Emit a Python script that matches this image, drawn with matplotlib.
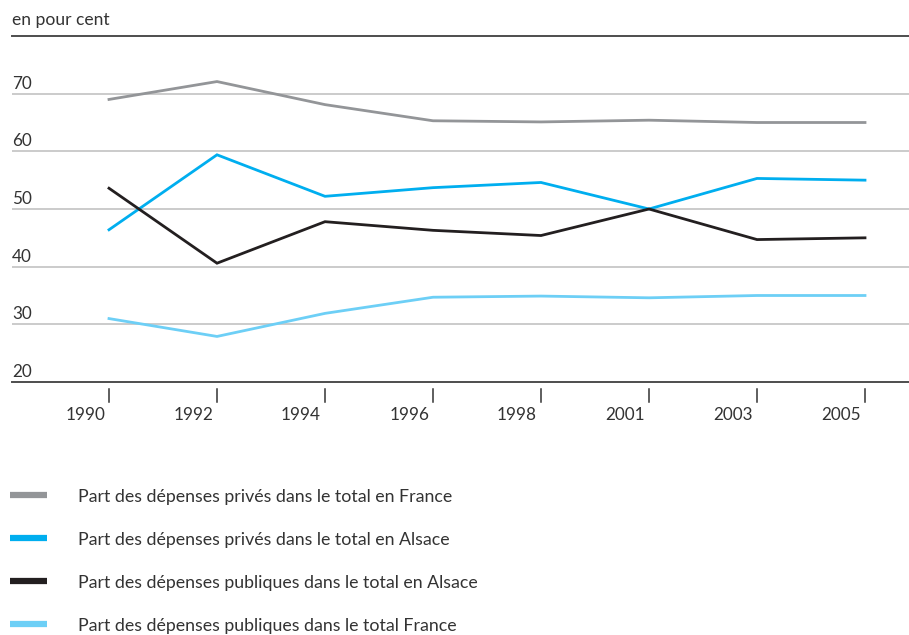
import matplotlib
matplotlib.use('Agg')
import matplotlib.pyplot as plt
from matplotlib.lines import Line2D
import matplotlib.transforms as mtransforms

plt.rcParams['font.family'] = ['Lato', 'DejaVu Sans']

W, H, DPI = 909, 635, 100

years = ['1990', '1992', '1994', '1996', '1998', '2001', '2003', '2005']
prive_france = [69.0, 72.1, 68.1, 65.3, 65.1, 65.4, 65.0, 65.0]
prive_alsace = [46.4, 59.4, 52.2, 53.7, 54.6, 50.0, 55.3, 55.0]
publique_alsace = [53.6, 40.6, 47.8, 46.3, 45.4, 50.0, 44.7, 45.0]
publique_france = [31.0, 27.9, 31.9, 34.7, 34.9, 34.6, 35.0, 35.0]

series = [
    ('Part des dépenses privés dans le total en France', prive_france, '#939598'),
    ('Part des dépenses privés dans le total en Alsace', prive_alsace, '#00aeef'),
    ('Part des dépenses publiques dans le total en Alsace', publique_alsace, '#231f20'),
    ('Part des dépenses publiques dans le total France', publique_france, '#6dcff6'),
]
y_ticks = [20, 30, 40, 50, 60, 70]
TXT = '#333333'

fig = plt.figure(figsize=(W / DPI, H / DPI), dpi=DPI)
ax_left, ax_right, ax_top, ax_bot = 12, 909, 36, 382
ax = fig.add_axes([ax_left / W, 1 - ax_bot / H, (ax_right - ax_left) / W, (ax_bot - ax_top) / H])

# category i sits at pixel 109 + 108*i
x = list(range(len(years)))
ax.set_xlim((ax_left - 109) / 108, (ax_right - 109) / 108)
ax.set_ylim(20, 80)

for v in y_ticks[1:]:
    ax.axhline(v, color='#bdbdbd', lw=1.1, zorder=1)

for label, vals, color in series:
    ax.plot(x, vals, color=color, lw=2.0, solid_joinstyle='miter', zorder=3)

for s in ['left', 'right']:
    ax.spines[s].set_visible(False)
for s in ['top', 'bottom']:
    ax.spines[s].set_color('#4d4d4d')
    ax.spines[s].set_linewidth(1.4)
ax.set_xticks([])
ax.set_yticks([])

ax_h = ax_bot - ax_top
# y values written above their gridlines
ytrans = mtransforms.blended_transform_factory(ax.transAxes, ax.transData)
for v in y_ticks:
    ax.text(0, v + 0.35, str(v), transform=ytrans, ha='left', va='bottom',
            fontsize=12.3, color=TXT)

# detached tick marks and right-aligned year labels
xtrans = ax.get_xaxis_transform()
for i, yr in enumerate(years):
    ax.plot([i, i], [-(389 - ax_bot) / ax_h, -(402 - ax_bot) / ax_h], transform=xtrans,
            color='#333333', lw=1.1, clip_on=False)
    ax.text(i - 4 / 108, -(415 - ax_bot) / ax_h, yr, transform=xtrans, ha='right',
            va='center', fontsize=12.3, color=TXT)

fig.text(ax_left / W, 1 - 20 / H, 'en pour cent', ha='left', va='center',
         fontsize=12.6, color=TXT)

# legend rows
row_y = [495, 538, 581, 624]
for (label, vals, color), ry in zip(series, row_y):
    fig.add_artist(Line2D([10 / W, 47 / W], [1 - ry / H, 1 - ry / H], color=color,
                          lw=4.5, solid_capstyle='butt'))
    fig.text(78 / W, 1 - (ry + 2) / H, label, ha='left', va='center',
             fontsize=12.8, color=TXT)

fig.savefig('out.png', dpi=DPI)
